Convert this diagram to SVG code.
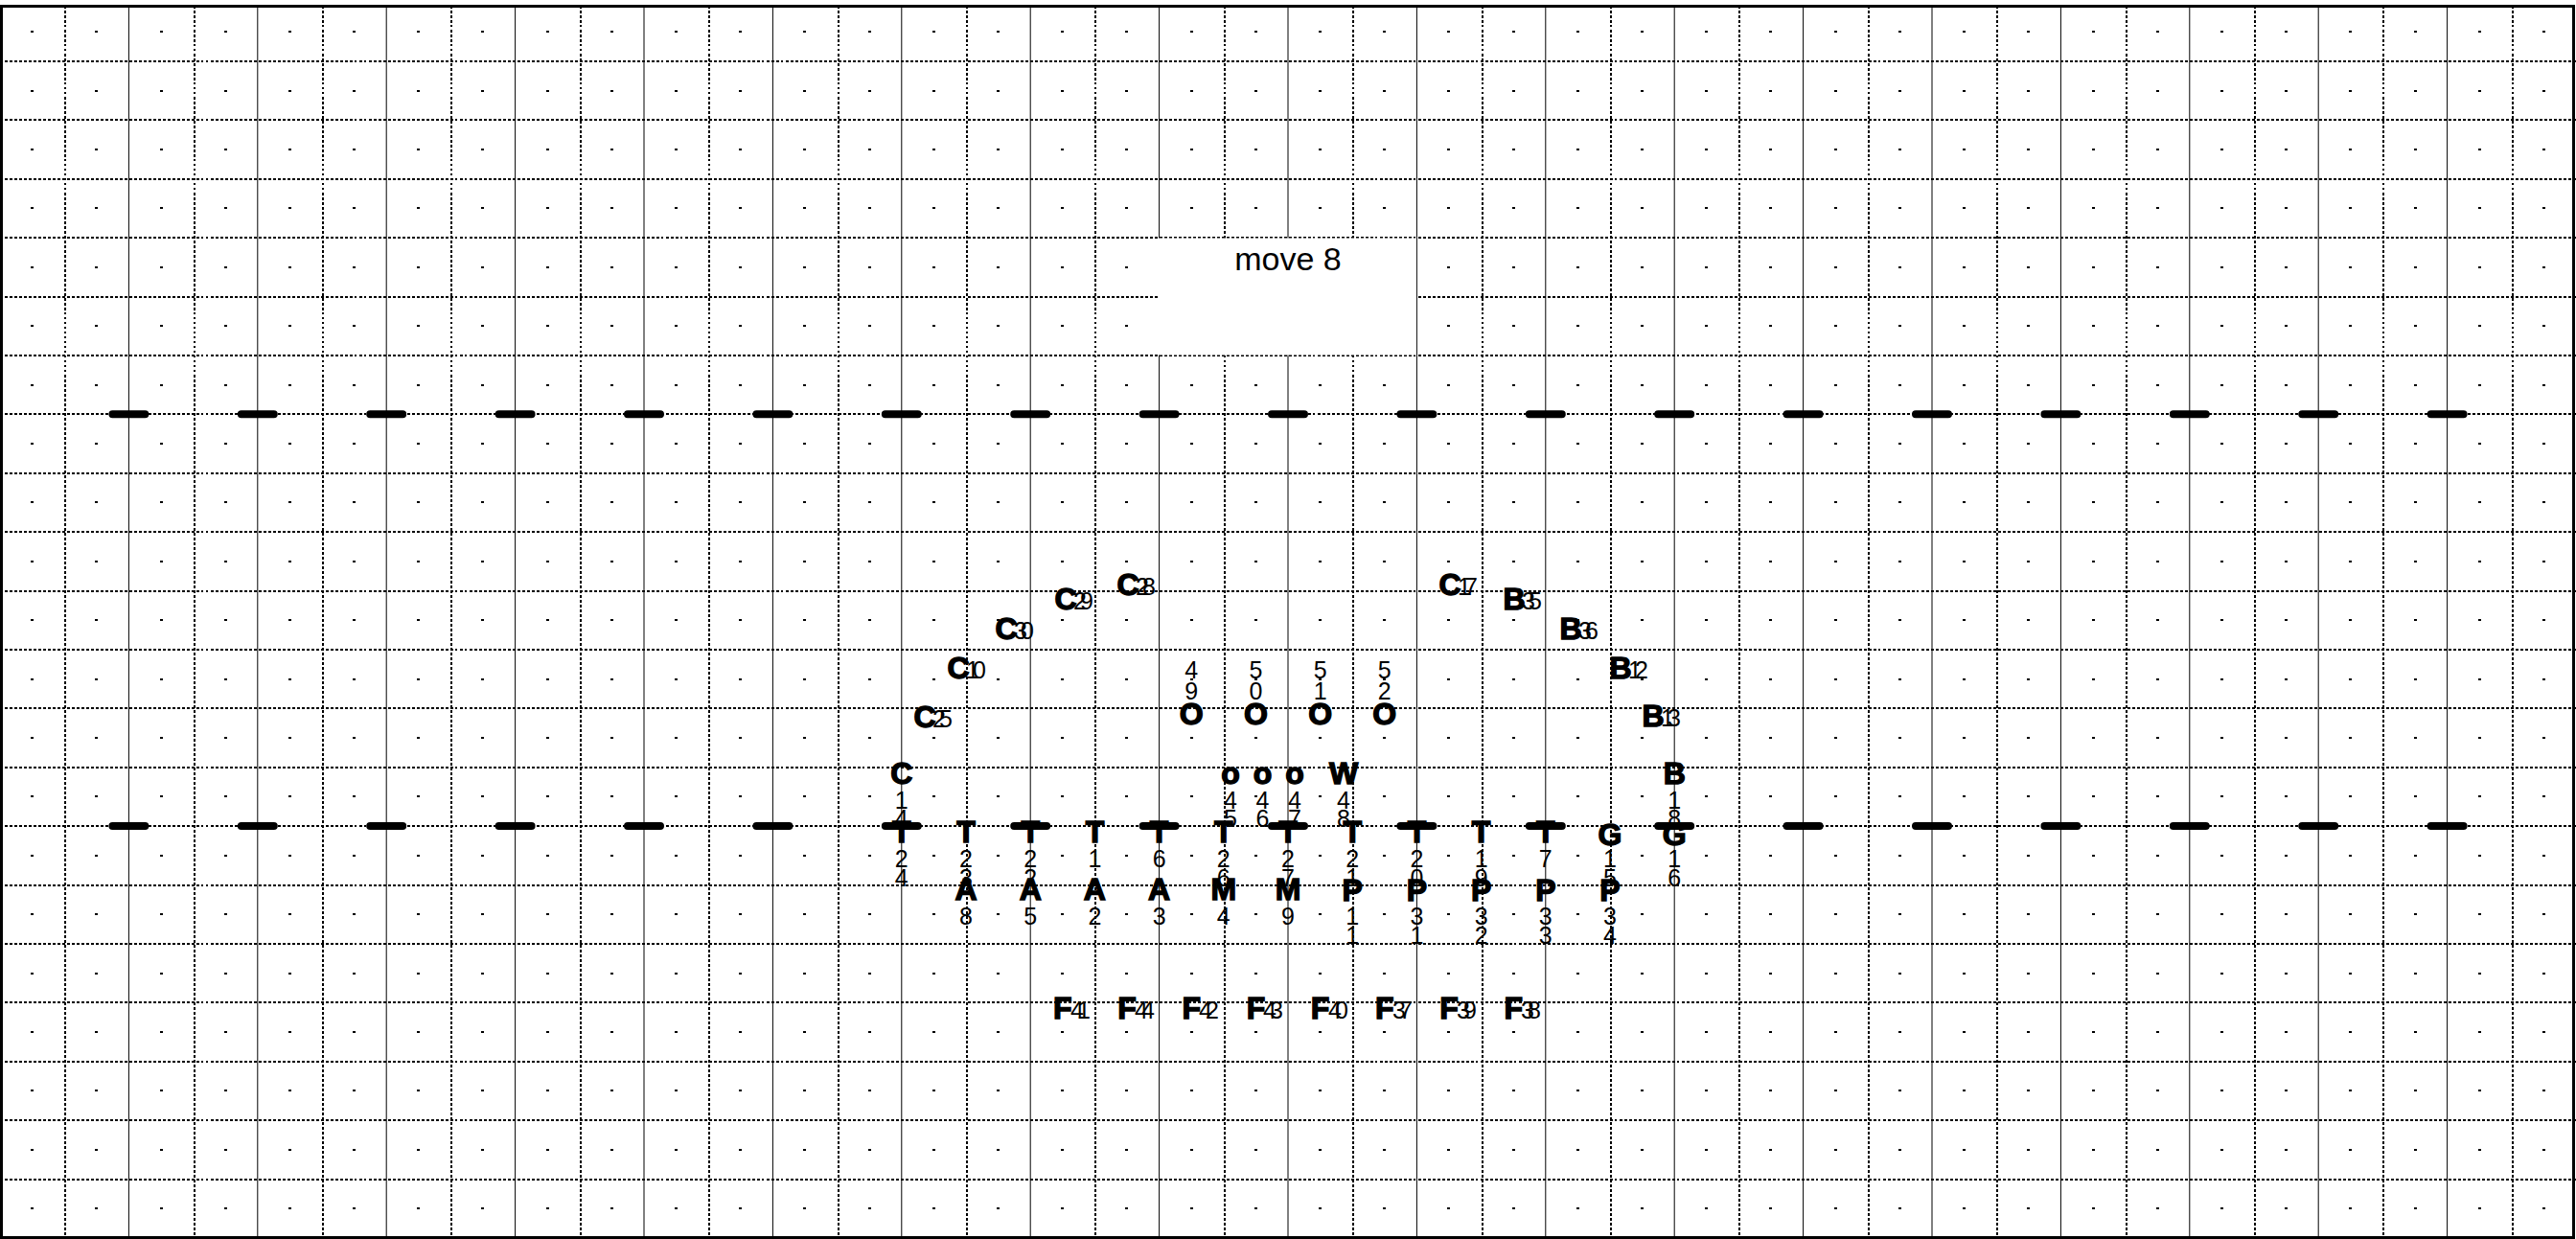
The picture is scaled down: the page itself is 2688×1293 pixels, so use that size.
<svg xmlns="http://www.w3.org/2000/svg" width="2688" height="1293" viewBox="0 0 2688 1293">
<style>
.bg{fill:#fff}
.vs{stroke:#000;stroke-width:1;fill:none}
.vd{stroke:#000;stroke-width:2;stroke-dasharray:2.5 2.5;fill:none;shape-rendering:crispEdges}
.hd{stroke:#000;stroke-width:2;stroke-dasharray:2.5 2.5;fill:none;shape-rendering:crispEdges}
.dot{stroke:#000;stroke-width:2;stroke-dasharray:3 64.2;fill:none;shape-rendering:crispEdges}
.hash{stroke:#000;stroke-width:8;stroke-linecap:round;fill:none}
.frame{stroke:#000;stroke-width:3;fill:none;shape-rendering:crispEdges}
.L{font-family:"Liberation Sans",Arial,sans-serif;font-weight:bold;font-size:32px;text-anchor:middle;fill:#000;stroke:#000;stroke-width:1.4px}
.d{font-family:"Liberation Sans",Arial,sans-serif;font-size:25px;text-anchor:middle;fill:#000}
.s{font-family:"Liberation Sans",Arial,sans-serif;font-size:25px;letter-spacing:-7px;fill:#000}
.t{font-family:"Liberation Sans",Arial,sans-serif;font-size:34px;text-anchor:middle;fill:#000}
</style>
<rect class="bg" x="0" y="0" width="2688" height="1293"/>
<g id="grid">
<path class="vs" d="M134.4 6V1291M268.8 6V1291M403.2 6V1291M537.6 6V1291M672 6V1291M806.4 6V1291M940.8 6V1291M1075.2 6V1291M1209.6 6V1291M1344 6V1291M1478.4 6V1291M1612.8 6V1291M1747.2 6V1291M1881.6 6V1291M2016 6V1291M2150.4 6V1291M2284.8 6V1291M2419.2 6V1291M2553.6 6V1291"/>
<path class="vd" d="M68.2 6V1291M202.6 6V1291M337 6V1291M471.4 6V1291M605.8 6V1291M740.2 6V1291M874.6 6V1291M1009 6V1291M1143.4 6V1291M1277.8 6V1291M1412.2 6V1291M1546.6 6V1291M1681 6V1291M1815.4 6V1291M1949.8 6V1291M2084.2 6V1291M2218.6 6V1291M2353 6V1291M2487.4 6V1291M2621.8 6V1291"/>
<path class="hd" d="M0 63.9H2688M0 125.3H2688M0 186.7H2688M0 248.1H2688M0 309.5H2688M0 370.9H2688M0 432.3H2688M0 493.7H2688M0 555.1H2688M0 616.5H2688M0 677.9H2688M0 739.3H2688M0 800.7H2688M0 862.1H2688M0 923.5H2688M0 984.9H2688M0 1046.3H2688M0 1107.7H2688M0 1169.1H2688M0 1230.5H2688"/>
<path class="dot" d="M32.1 33.2H2688M32.1 94.6H2688M32.1 156H2688M32.1 217.4H2688M32.1 278.8H2688M32.1 340.2H2688M32.1 401.6H2688M32.1 463H2688M32.1 524.4H2688M32.1 585.8H2688M32.1 647.2H2688M32.1 708.6H2688M32.1 770H2688M32.1 831.4H2688M32.1 892.8H2688M32.1 954.2H2688M32.1 1015.6H2688M32.1 1077H2688M32.1 1138.4H2688M32.1 1199.8H2688M32.1 1261.2H2688"/>
<rect class="bg" x="0" y="0" width="2688" height="5"/>
<rect class="frame" x="1.5" y="6" width="2683.5" height="1285"/>
</g>
<g id="hashmarks">
<path class="hash" d="M117.4 432.3h34M251.8 432.3h34M386.2 432.3h34M520.6 432.3h34M655 432.3h34M789.4 432.3h34M923.8 432.3h34M1058.2 432.3h34M1192.6 432.3h34M1327 432.3h34M1461.4 432.3h34M1595.8 432.3h34M1730.2 432.3h34M1864.6 432.3h34M1999 432.3h34M2133.4 432.3h34M2267.8 432.3h34M2402.2 432.3h34M2536.6 432.3h34"/>
<path class="hash" d="M117.4 862.1h34M251.8 862.1h34M386.2 862.1h34M520.6 862.1h34M655 862.1h34M789.4 862.1h34M923.8 862.1h34M1058.2 862.1h34M1192.6 862.1h34M1327 862.1h34M1461.4 862.1h34M1595.8 862.1h34M1730.2 862.1h34M1864.6 862.1h34M1999 862.1h34M2133.4 862.1h34M2267.8 862.1h34M2402.2 862.1h34M2536.6 862.1h34"/>
</g>
<g id="title">
<rect class="bg" x="1209" y="248.5" width="268.8" height="122"/>
<text class="t" x="1344" y="282">move 8</text>
</g>
<g id="connectors"></g>
<g id="players">
<g id="C25"><text class="L" x="965" y="759">C</text><text class="s" x="973" y="759">25</text></g>
<g id="C10"><text class="L" x="1000" y="708">C</text><text class="s" x="1008" y="708">10</text></g>
<g id="C30"><text class="L" x="1050" y="667">C</text><text class="s" x="1058" y="667">30</text></g>
<g id="C29"><text class="L" x="1112" y="636">C</text><text class="s" x="1120" y="636">29</text></g>
<g id="C28"><text class="L" x="1177" y="621">C</text><text class="s" x="1185" y="621">28</text></g>
<g id="C17"><text class="L" x="1513" y="621">C</text><text class="s" x="1521" y="621">17</text></g>
<g id="B35"><text class="L" x="1580" y="636">B</text><text class="s" x="1588" y="636">35</text></g>
<g id="B36"><text class="L" x="1639" y="667">B</text><text class="s" x="1647" y="667">36</text></g>
<g id="B12"><text class="L" x="1691" y="708">B</text><text class="s" x="1699" y="708">12</text></g>
<g id="B13"><text class="L" x="1725" y="758">B</text><text class="s" x="1733" y="758">13</text></g>

<g id="O49"><text class="d" x="1243.2" y="708">4</text><text class="d" x="1243.2" y="730">9</text><text class="L" x="1243.2" y="756">O</text></g>
<g id="O50"><text class="d" x="1310.4" y="708">5</text><text class="d" x="1310.4" y="730">0</text><text class="L" x="1310.4" y="756">O</text></g>
<g id="O51"><text class="d" x="1377.6" y="708">5</text><text class="d" x="1377.6" y="730">1</text><text class="L" x="1377.6" y="756">O</text></g>
<g id="O52"><text class="d" x="1444.8" y="708">5</text><text class="d" x="1444.8" y="730">2</text><text class="L" x="1444.8" y="756">O</text></g>

<g id="C14"><text class="L" x="940.8" y="818">C</text><text class="d" x="940.8" y="844">1</text><text class="d" x="940.8" y="863">4</text></g>
<g id="o45"><text class="L" x="1284" y="818">o</text><text class="d" x="1284" y="844">4</text><text class="d" x="1284" y="863">5</text></g>
<g id="o46"><text class="L" x="1317.5" y="818">o</text><text class="d" x="1317.5" y="844">4</text><text class="d" x="1317.5" y="863">6</text></g>
<g id="o47"><text class="L" x="1351" y="818">o</text><text class="d" x="1351" y="844">4</text><text class="d" x="1351" y="863">7</text></g>
<g id="W48"><text class="L" x="1402" y="818">W</text><text class="d" x="1402" y="844">4</text><text class="d" x="1402" y="863">8</text></g>
<g id="B18"><text class="L" x="1747.2" y="818">B</text><text class="d" x="1747.2" y="844">1</text><text class="d" x="1747.2" y="863">8</text></g>

<g id="T24"><text class="L" x="940.8" y="879">T</text><text class="d" x="940.8" y="905">2</text><text class="d" x="940.8" y="925">4</text></g>
<g id="T23"><text class="L" x="1008" y="879">T</text><text class="d" x="1008" y="905">2</text><text class="d" x="1008" y="925">3</text></g>
<g id="T22"><text class="L" x="1075.2" y="879">T</text><text class="d" x="1075.2" y="905">2</text><text class="d" x="1075.2" y="925">2</text></g>
<g id="T1"><text class="L" x="1142.4" y="879">T</text><text class="d" x="1142.4" y="905">1</text></g>
<g id="T6"><text class="L" x="1209.6" y="879">T</text><text class="d" x="1209.6" y="905">6</text></g>
<g id="T26"><text class="L" x="1276.8" y="879">T</text><text class="d" x="1276.8" y="905">2</text><text class="d" x="1276.8" y="925">6</text></g>
<g id="T27"><text class="L" x="1344" y="879">T</text><text class="d" x="1344" y="905">2</text><text class="d" x="1344" y="925">7</text></g>
<g id="T21"><text class="L" x="1411.2" y="879">T</text><text class="d" x="1411.2" y="905">2</text><text class="d" x="1411.2" y="925">1</text></g>
<g id="T20"><text class="L" x="1478.4" y="879">T</text><text class="d" x="1478.4" y="905">2</text><text class="d" x="1478.4" y="925">0</text></g>
<g id="T19"><text class="L" x="1545.6" y="879">T</text><text class="d" x="1545.6" y="905">1</text><text class="d" x="1545.6" y="925">9</text></g>
<g id="T7"><text class="L" x="1612.8" y="879">T</text><text class="d" x="1612.8" y="905">7</text></g>
<g id="G15"><text class="L" x="1680" y="882">G</text><text class="d" x="1680" y="905">1</text><text class="d" x="1680" y="925">5</text></g>
<g id="G16"><text class="L" x="1747.2" y="882">G</text><text class="d" x="1747.2" y="905">1</text><text class="d" x="1747.2" y="925">6</text></g>

<g id="A8"><text class="L" x="1008" y="939">A</text><text class="d" x="1008" y="965">8</text></g>
<g id="A5"><text class="L" x="1075.2" y="939">A</text><text class="d" x="1075.2" y="965">5</text></g>
<g id="A2"><text class="L" x="1142.4" y="939">A</text><text class="d" x="1142.4" y="965">2</text></g>
<g id="A3"><text class="L" x="1209.6" y="939">A</text><text class="d" x="1209.6" y="965">3</text></g>
<g id="M4"><text class="L" x="1276.8" y="939">M</text><text class="d" x="1276.8" y="965">4</text></g>
<g id="M9"><text class="L" x="1344" y="939">M</text><text class="d" x="1344" y="965">9</text></g>
<g id="P11"><text class="L" x="1411.2" y="940">P</text><text class="d" x="1411.2" y="965">1</text><text class="d" x="1411.2" y="985">1</text></g>
<g id="P31"><text class="L" x="1478.4" y="940">P</text><text class="d" x="1478.4" y="965">3</text><text class="d" x="1478.4" y="985">1</text></g>
<g id="P32"><text class="L" x="1545.6" y="940">P</text><text class="d" x="1545.6" y="965">3</text><text class="d" x="1545.6" y="985">2</text></g>
<g id="P33"><text class="L" x="1612.8" y="940">P</text><text class="d" x="1612.8" y="965">3</text><text class="d" x="1612.8" y="985">3</text></g>
<g id="P34"><text class="L" x="1680" y="940">P</text><text class="d" x="1680" y="965">3</text><text class="d" x="1680" y="985">4</text></g>

<g id="F41"><text class="L" x="1108.8" y="1063">F</text><text class="s" x="1117" y="1063">41</text></g>
<g id="F44"><text class="L" x="1176" y="1063">F</text><text class="s" x="1184" y="1063">44</text></g>
<g id="F42"><text class="L" x="1243.2" y="1063">F</text><text class="s" x="1251" y="1063">42</text></g>
<g id="F43"><text class="L" x="1310.4" y="1063">F</text><text class="s" x="1318" y="1063">43</text></g>
<g id="F40"><text class="L" x="1377.6" y="1063">F</text><text class="s" x="1386" y="1063">40</text></g>
<g id="F37"><text class="L" x="1444.8" y="1063">F</text><text class="s" x="1453" y="1063">37</text></g>
<g id="F39"><text class="L" x="1512" y="1063">F</text><text class="s" x="1520" y="1063">39</text></g>
<g id="F38"><text class="L" x="1579.2" y="1063">F</text><text class="s" x="1587" y="1063">38</text></g>
</g>
</svg>
